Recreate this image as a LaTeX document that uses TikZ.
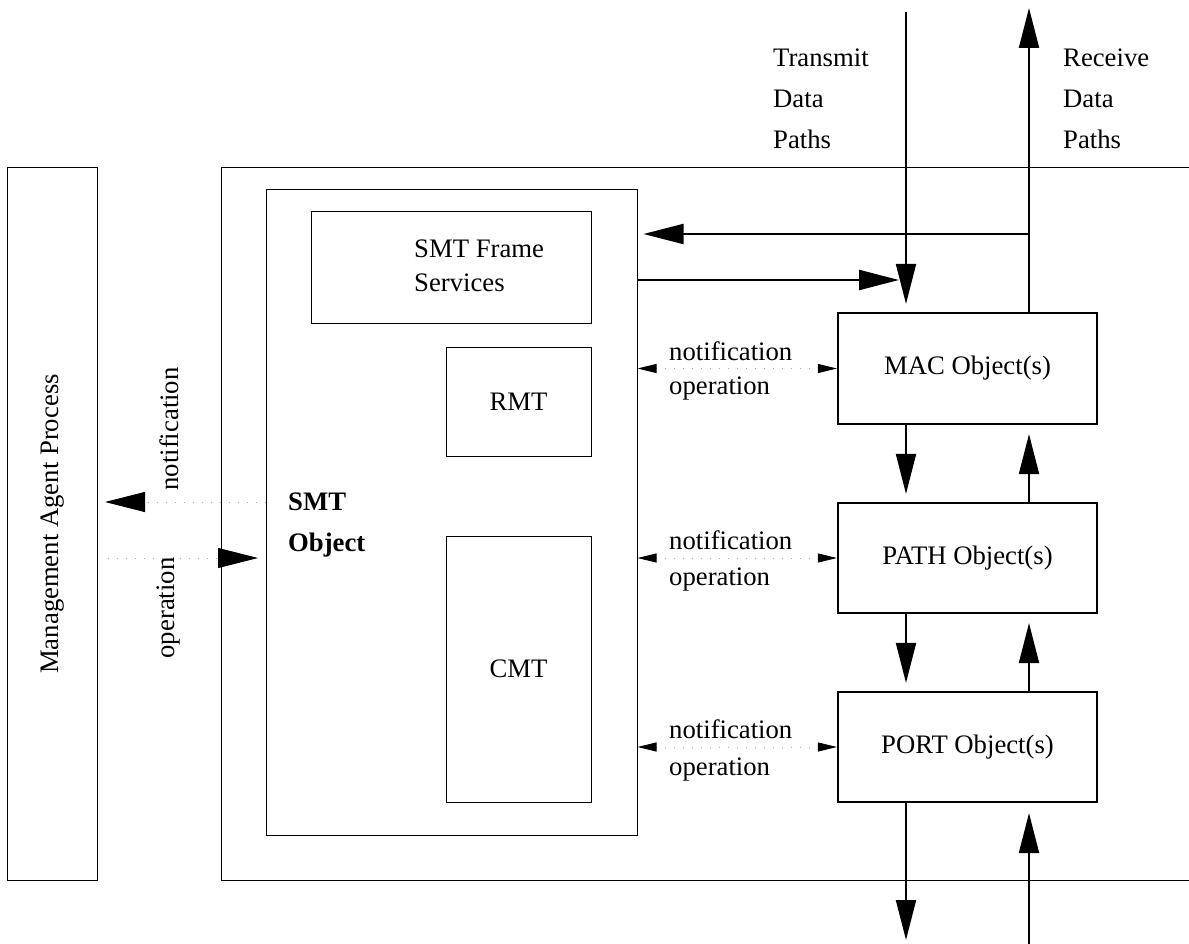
\documentclass[tikz,border=0pt]{standalone}
\usepackage{fontspec}
\setmainfont{Liberation Serif}
\usetikzlibrary{arrows.meta}
\begin{document}
\begin{tikzpicture}[x=1pt,y=-1pt,
  every node/.style={font=\fontsize{26.7}{34}\selectfont, inner sep=0pt},
  thinbox/.style={draw, line width=1pt},
  objbox/.style={draw, line width=2.2pt, minimum width=259pt, minimum height=110pt},
  big/.style={line width=2pt, -{Triangle[length=40pt,width=20pt]}},
  dots/.style={gray!70, line width=1pt, dash pattern=on 1pt off 8pt},
  smallhead/.style={{Triangle[length=19pt,width=9pt,color=black]}-{Triangle[length=19pt,width=9pt,color=black]}},
  bighead/.style={-{Triangle[length=40pt,width=20pt,color=black]}},
]
\useasboundingbox (0,0) rectangle (1189,944);

% management agent
\node[thinbox, minimum width=90pt, minimum height=712pt] (mgmt) at (52.5,524) {};
\node[rotate=90] (mgmtlabel) at (52.5,524) {Management Agent Process};

% big box (open on right)
\coordinate (bbtr) at (1189,168);
\coordinate (bbtl) at (221,168);
\coordinate (bbbl) at (221,880);
\coordinate (bbbr) at (1189,880);
\draw[line width=1pt] (bbtr) -- (bbtl) -- (bbbl) -- (bbbr);

% SMT object
\node[thinbox, minimum width=371pt, minimum height=645pt] (smt) at (451.5,512.5) {};
\node[thinbox, minimum width=280pt, minimum height=111pt] (fs) at (451,267.5) {};
\node[align=left, anchor=west] (fslabel) at (414,266) {SMT Frame\\Services};
\node[thinbox, minimum width=145pt, minimum height=109pt] (rmt) at (518.5,401.5) {RMT};
\node[thinbox, minimum width=145pt, minimum height=266pt] (cmt) at (518.5,669) {CMT};
\node[align=left, anchor=west, font=\fontsize{26.7}{41}\selectfont\bfseries] (smtlabel) at (288,525) {SMT\\Object};

% objects
\node[objbox, minimum height=111pt] (mac) at (967.5,368.5) {MAC Object(s)};
\node[objbox] (path) at (967.5,558) {PATH Object(s)};
\node[objbox] (port) at (967.5,747) {PORT Object(s)};

% data path labels
\node[align=left, anchor=west, font=\fontsize{26.7}{41}\selectfont] (tx) at (773,99) {Transmit\\Data\\Paths};
\node[align=left, anchor=west, font=\fontsize{26.7}{41}\selectfont] (rx) at (1063,99) {Receive\\Data\\Paths};

% data paths
\coordinate (txtop) at (906,12);
\coordinate (rxtop) at (1029,8);
\coordinate (rxbranch) at (1029,234);
\coordinate (fsout) at (637,280);
\coordinate (txbot) at (906,940);
\coordinate (rxbot) at (1029,944);
\draw[big, shorten >=8pt] (txtop) -- (mac.north -| txtop);
\draw[big] (mac.north -| rxtop) -- (rxtop);
\draw[big, shorten >=6pt] (rxbranch) -- (smt.east |- rxbranch);
\draw[big, shorten >=7pt] (fsout) -- (txtop |- fsout);
\draw[big, shorten >=8pt] (mac.south -| txtop) -- (path.north -| txtop);
\draw[big, shorten >=9pt] (path.north -| rxtop) -- (mac.south -| rxtop);
\draw[big, shorten >=8pt] (path.south -| txtop) -- (port.north -| txtop);
\draw[big, shorten >=9pt] (port.north -| rxtop) -- (path.south -| rxtop);
\draw[big] (port.south -| txtop) -- (txbot);
\draw[big, shorten >=10pt] (rxbot) -- (port.south -| rxbot);

% notification / operation to objects
\draw[dots, smallhead] (smt.east |- mac.center) -- (mac.west);
\node[anchor=west] (n1) at (669,351) {notification};
\node[anchor=west] (o1) at (669,389) {operation};
\draw[dots, smallhead] (smt.east |- path.center) -- (path.west);
\node[anchor=west] (n2) at (669,540) {notification};
\node[anchor=west] (o2) at (669,579) {operation};
\draw[dots, smallhead] (smt.east |- port.center) -- (port.west);
\node[anchor=west] (n3) at (669,729) {notification};
\node[anchor=west] (o3) at (669,769) {operation};

% to/from management agent
\coordinate (ntip) at (105,502);
\coordinate (ostart) at (108,558);
\coordinate (otip) at (258,558);
\draw[dots, bighead] (smt.west |- ntip) -- (ntip);
\draw[dots, bighead] (ostart) -- (otip);
\node[rotate=90] (nl) at (169,429) {notification};
\node[rotate=90] (ol) at (169,608) {operation};
\end{tikzpicture}
\end{document}
